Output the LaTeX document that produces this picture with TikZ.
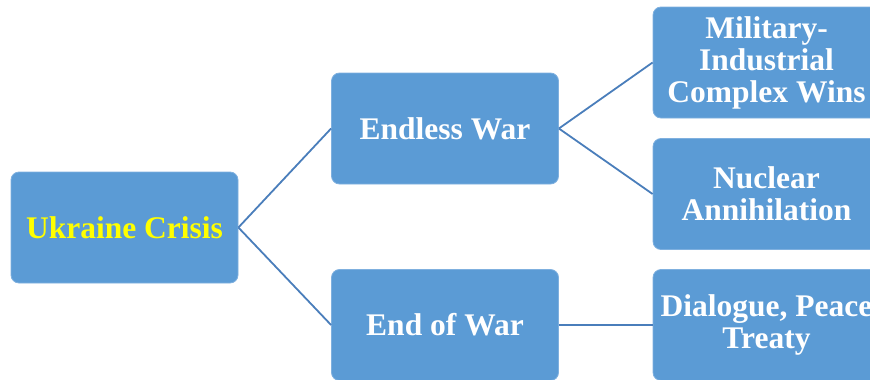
\documentclass[tikz,border=0pt]{standalone}
\usepackage{fontspec}
\setmainfont{Liberation Serif}
\definecolor{boxfill}{HTML}{5B9BD5}
\definecolor{boxedge}{HTML}{7FB0DF}
\definecolor{linkcol}{HTML}{4A7EBB}
\definecolor{rootyellow}{HTML}{FFFF00}
\begin{document}
\begin{tikzpicture}[x=1pt,y=-1pt,
  card/.style={rectangle, rounded corners=8pt, fill=boxfill, draw=boxedge, line width=0.8pt,
    minimum width=227pt, minimum height=111pt, inner sep=0pt, align=center,
    text=white, font=\fontsize{31.5}{32}\selectfont\bfseries},
  link/.style={draw=linkcol, line width=1.8pt}]
  \useasboundingbox (0,0) rectangle (870,380);
  \clip (0,0) rectangle (870,380);

  % root
  \node[card, text=rootyellow] (crisis) at (124.5,227.5) {Ukraine Crisis};

  % second level
  \node[card] (endless) at (445,128.5) {Endless War};
  \node[card] (endwar) at (445,325) {End of War};

  % outcomes
  \node[card] (mic) at (766.5,62.5) {Military-\\Industrial\\Complex Wins};
  \node[card] (nuke) at (766.5,194) {Nuclear\\Annihilation};
  \node[card] (peace) at (766.5,325) {Dialogue, Peace\\Treaty};

  % connectors
  \draw[link] (crisis.east) -- (endless.west);
  \draw[link] (crisis.east) -- (endwar.west);
  \draw[link] (endless.east) -- (mic.west);
  \draw[link] (endless.east) -- (nuke.west);
  \draw[link] (endwar.east) -- (peace.west);
\end{tikzpicture}
\end{document}
